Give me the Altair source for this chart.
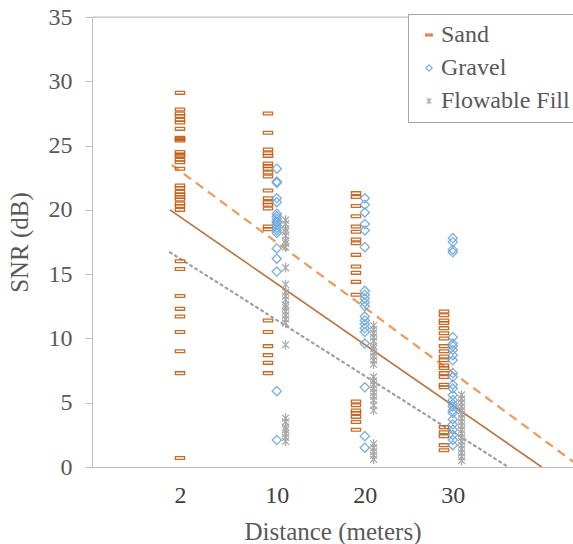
import altair as alt
import pandas as pd

# ---- data (SNR in dB) ----
distances = [2, 10, 20, 30]
series_names = ["Sand", "Gravel", "Flowable Fill"]

sand_2 = [29.1, 27.8, 27.5, 27.3, 27.0, 26.8, 26.3, 25.6, 25.5, 25.4, 24.5, 24.3, 24.2,
          23.9, 23.7, 23.2, 21.9, 21.7, 21.4, 21.2, 21.0, 20.8, 20.5, 20.3, 20.0, 16.0,
          15.4, 13.3, 12.3, 11.7, 10.5, 9.0, 7.3, 0.7]
sand_10 = [27.5, 26.0, 24.7, 24.4, 24.2, 23.6, 23.4, 23.2, 22.9, 22.6, 21.5, 20.9, 20.6,
           20.4, 20.1, 18.7, 18.5, 11.4, 10.5, 9.4, 8.7, 8.1, 7.3]
sand_20 = [21.3, 21.0, 20.3, 19.5, 18.7, 18.3, 17.7, 17.4, 16.5, 15.6, 15.1, 14.4, 13.4,
           5.1, 4.8, 4.4, 4.2, 3.9, 3.5, 2.9]
sand_30 = [12.1, 11.8, 11.4, 11.2, 10.8, 10.4, 10.0, 9.4, 9.0, 8.6, 8.3, 7.9, 7.7, 7.3,
           7.0, 6.4, 6.2, 3.1, 2.7, 2.4, 1.7, 1.3]

gravel_10 = [23.2, 22.2, 22.1, 20.9, 20.6, 19.7, 19.5, 19.3, 19.1, 19.0, 18.8, 18.6, 18.4,
             18.2, 17.0, 16.2, 15.2, 5.9, 2.1]
gravel_20 = [20.9, 20.4, 19.8, 18.9, 18.4, 17.1, 13.7, 13.4, 13.1, 12.8, 12.5, 11.7, 11.4,
             11.1, 10.8, 10.5, 9.6, 6.2, 2.4, 1.5]
gravel_30 = [17.8, 17.5, 16.9, 16.7, 10.1, 9.6, 9.4, 9.1, 8.7, 8.3, 7.3, 7.0, 6.4, 6.1,
             5.6, 5.2, 4.9, 4.7, 4.4, 4.2, 3.7, 3.3, 2.9, 2.5, 2.1, 1.7]

fill_10 = [19.2, 18.9, 18.5, 18.3, 18.0, 17.6, 17.4, 17.1, 15.5, 14.2, 13.6, 13.3, 13.0,
           12.6, 12.4, 12.1, 11.8, 11.5, 11.2, 9.5, 3.8, 3.5, 3.1, 2.9, 2.6, 2.3, 2.0]
fill_20 = [11.0, 10.7, 10.4, 10.1, 9.8, 9.4, 9.2, 8.9, 8.6, 8.3, 8.0, 7.0, 6.7, 6.4, 6.1,
           5.8, 5.5, 5.2, 4.8, 4.4, 1.8, 1.5, 1.2, 0.9, 0.6]
fill_30 = [5.6, 5.3, 5.0, 4.7, 4.4, 4.1, 3.8, 3.5, 3.2, 2.9, 2.6, 2.3, 2.0, 1.7, 1.4, 1.1,
           0.8, 0.5]

# trendlines (category-position, SNR) endpoints
trend_names = ["Sand trend", "Gravel trend", "Fill trend"]
trend_x0 = [0.886, 0.906, 0.886]
trend_y0 = [20.0, 23.5, 16.7]
trend_x1 = [5.11, 5.47, 4.73]
trend_y1 = [0.0, 0.4, 0.0]

tick_values = [1.0, 2.1, 3.1, 4.1]
tick_labels = ["2", "10", "20", "30"]

# ---- build tables ----
groups = {
    "Sand": [sand_2, sand_10, sand_20, sand_30],
    "Gravel": [[], gravel_10, gravel_20, gravel_30],
    "Flowable Fill": [[], fill_10, fill_20, fill_30],
}
offsets = {"Sand": 0.0, "Gravel": 0.1, "Flowable Fill": 0.2}
rows = []
for name in series_names:
    for i, vals in enumerate(groups[name]):
        for v in vals:
            rows.append({"series": name, "pos": i + 1 + offsets[name], "snr": v})
pts = pd.DataFrame(rows)

trend = pd.DataFrame({
    "trend": sum([[n, n] for n in trend_names], []),
    "pos": sum([[a, b] for a, b in zip(trend_x0, trend_x1)], []),
    "snr": sum([[a, b] for a, b in zip(trend_y0, trend_y1)], []),
})

FONT = "Times New Roman, Liberation Serif, serif"
FS = 24
FT = 25
xscale = alt.Scale(domain=[0, 5.466], nice=False, zero=False)
yscale = alt.Scale(domain=[0, 35], nice=False)

label_expr = ("datum.value < 1.5 ? '" + tick_labels[0] + "' : datum.value < 2.5 ? '" +
              tick_labels[1] + "' : datum.value < 3.5 ? '" + tick_labels[2] + "' : '" +
              tick_labels[3] + "'")

xaxis = alt.Axis(values=tick_values, labelExpr=label_expr, title="Distance (meters)",
                 grid=False, ticks=False, domainColor="#BFBFBF", labelFont=FONT,
                 labelFontSize=FS, labelColor="#404040", labelPadding=16,
                 titleFont=FONT, titleFontSize=FT, titleColor="#595959",
                 titleFontWeight="normal", titlePadding=12)
yaxis = alt.Axis(values=[0, 5, 10, 15, 20, 25, 30, 35], title="SNR (dB)", grid=False,
                 domainColor="#BFBFBF", tickColor="#BFBFBF", tickSize=7,
                 labelFont=FONT, labelFontSize=FS, labelColor="#595959", labelPadding=13,
                 titleFont=FONT, titleFontSize=FT, titleColor="#595959",
                 titleFontWeight="normal", titlePadding=16)

top_rule = alt.Chart(pd.DataFrame({"snr": [35]})).mark_rule(
    color="#BFBFBF", strokeWidth=1).encode(y=alt.Y("snr:Q", scale=yscale, axis=yaxis))

leg = alt.Legend(orient="none", legendX=316, legendY=-3, title=None,
                 fillColor="white", strokeColor="#A6A6A6", padding=9,
                 labelFont=FONT, labelFontSize=FS, labelColor="#595959",
                 symbolSize=40, symbolStrokeWidth=1.2, rowPadding=9, labelOffset=0)

sand_path = "M-1,-0.3L1,-0.3L1,0.3L-1,0.3Z"
aster_path = "M-0.75,-0.75L0.75,0.75M-0.75,0.75L0.75,-0.75M0,-1.05L0,1.05"

points = alt.Chart(pts).mark_point(filled=False, strokeWidth=1.3, size=85, opacity=0.9).encode(
    x=alt.X("pos:Q", scale=xscale, axis=xaxis),
    y=alt.Y("snr:Q", scale=yscale, axis=yaxis),
    color=alt.Color("series:N", scale=alt.Scale(domain=series_names,
                    range=["#C55A11", "#6FA8DC", "#A5A5A5"]), legend=leg),
    shape=alt.Shape("series:N", scale=alt.Scale(domain=series_names,
                    range=[sand_path, "diamond", aster_path]), legend=leg),
)

styles = {
    "Sand trend": dict(color="#B8733F", strokeWidth=1.6),
    "Gravel trend": dict(color="#EE9A5E", strokeWidth=2.2, strokeDash=[9, 6]),
    "Fill trend": dict(color="#A0A0A0", strokeWidth=2.2, strokeDash=[2, 4], strokeCap="round"),
}
lines = []
for n in trend_names:
    lines.append(
        alt.Chart(trend[trend["trend"] == n]).mark_line(clip=True, **styles[n]).encode(
            x=alt.X("pos:Q", scale=xscale, axis=xaxis), y=alt.Y("snr:Q", scale=yscale, axis=yaxis))
    )

chart = alt.layer(top_rule, *lines, points).properties(
    width=481, height=450,
    padding={"left": 92, "top": 17, "right": 0, "bottom": 77},
    autosize=alt.AutoSizeParams(type="none"),
).configure_view(stroke=None).configure(background="white")

chart.save("out.html", embed_options={"renderer": "svg", "actions": False})
